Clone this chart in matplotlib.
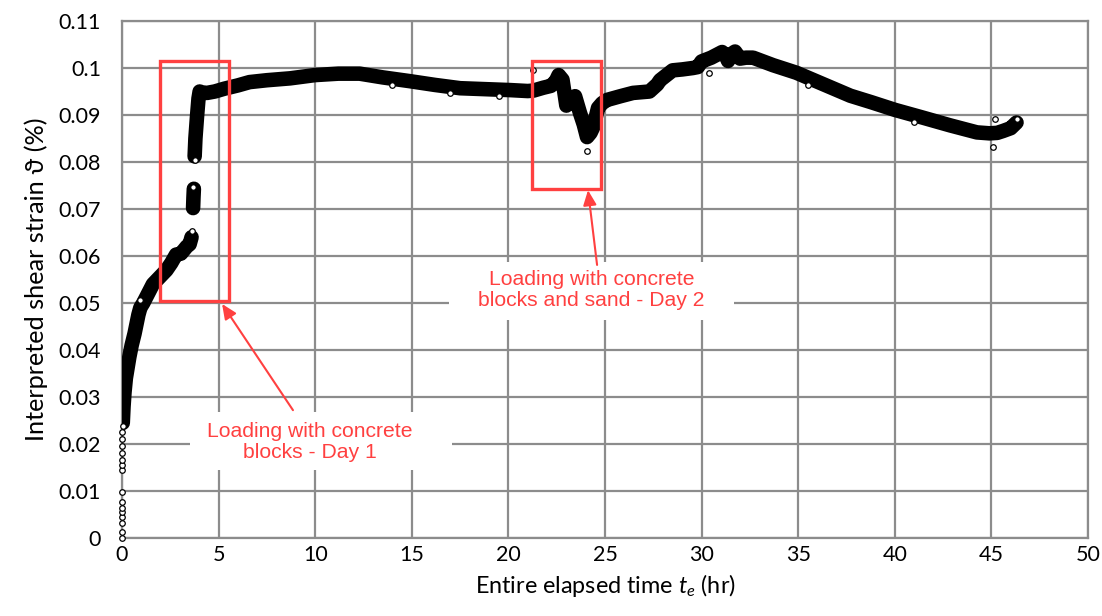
import matplotlib
matplotlib.use("Agg")
import matplotlib.pyplot as plt
from matplotlib.patches import Rectangle

plt.rcParams["mathtext.fontset"] = "custom"
plt.rcParams["mathtext.it"] = "Lato:italic"
plt.rcParams["mathtext.rm"] = "Lato"

# ---- measured shear strain record (time in hr, strain in %) ----
# initial creep up to the first loading
t_initial = [0.04, 0.08, 0.13, 0.2, 0.28, 0.38, 0.5, 0.65, 0.76, 0.85, 0.95, 1.1, 1.35,
             1.6, 1.95, 2.3, 2.55, 2.8, 3.05, 3.35, 3.5, 3.6]
s_initial = [0.0245, 0.028, 0.031, 0.034, 0.036, 0.0385, 0.041, 0.0435, 0.0457, 0.0475,
             0.049, 0.050, 0.052, 0.054, 0.0555, 0.057, 0.0585, 0.0603, 0.0605, 0.062,
             0.0625, 0.0640]
# short intermediate step during block placement
t_step = [3.68, 3.70, 3.72]
s_step = [0.0702, 0.0725, 0.0743]
# remainder of the record
t_main = [3.76, 3.80, 3.88, 3.96, 4.02, 4.15, 4.4, 4.8, 5.3, 6.0, 6.6, 7.5, 8.7, 10.0,
          11.2, 12.3, 13.5, 14.9, 16.2, 17.5, 18.8, 20.1, 21.0, 21.3, 21.8, 22.2, 22.45,
          22.6, 22.8, 23.0, 23.2, 23.45, 23.7, 23.9, 24.07, 24.25, 24.4, 24.64, 24.85,
          25.1, 25.8, 26.45, 27.3, 27.7, 27.85, 28.5, 29.0, 29.55, 29.8, 30.0, 30.5, 31.06,
          31.25, 31.37, 31.55, 31.73, 31.99, 32.3, 32.66, 33.7, 34.9, 36.1, 37.7, 38.8,
          40.0, 41.4, 42.86, 43.6, 44.25, 44.9, 45.3, 45.6, 46.0, 46.2, 46.3]
s_main = [0.0812, 0.0850, 0.0895, 0.0935, 0.0950, 0.0948, 0.0947, 0.0950, 0.0956,
          0.0963, 0.0970, 0.0974, 0.0978, 0.0985, 0.0988, 0.0988, 0.0980, 0.0972, 0.0964,
          0.0957, 0.0955, 0.0953, 0.0951, 0.0952, 0.0958, 0.0962, 0.0972, 0.0985, 0.0975,
          0.0920, 0.0935, 0.0940, 0.0905, 0.0880, 0.0853, 0.0862, 0.0875, 0.0915, 0.0925,
          0.0932, 0.0940, 0.0947, 0.0950, 0.0965, 0.0974, 0.0995, 0.0997, 0.1000, 0.1002,
          0.1014, 0.1022, 0.1034, 0.1027, 0.1015, 0.1030, 0.1035, 0.1020, 0.1022, 0.1022,
          0.1006, 0.0990, 0.0969, 0.0941, 0.0927, 0.0911, 0.0895, 0.0878, 0.0870, 0.0863,
          0.0861, 0.0862, 0.0866, 0.0872, 0.0880, 0.0884]
# isolated readings
t_points = [0.0, 0.0, 0.0, 0.0, 0.0, 0.0, 0.0, 0.0, 0.0, 0.0, 0.01, 0.01, 0.02, 0.02,
            0.02, 0.03, 0.93, 3.6, 3.68, 3.78, 21.27, 24.08, 30.4, 45.1, 45.2, 46.3,
            14.0, 17.0, 19.5, 35.5, 41.0]
s_points = [0.0, 0.0013, 0.0032, 0.0045, 0.0056, 0.0064, 0.0077, 0.0098, 0.0145, 0.0155,
            0.0165, 0.0180, 0.0195, 0.0210, 0.0225, 0.0238, 0.0506, 0.0653, 0.0747,
            0.0804, 0.0996, 0.0823, 0.0989, 0.0832, 0.0891, 0.0891,
            0.0963, 0.0946, 0.0941, 0.0963, 0.0885]

x_ticks = list(range(0, 51, 5))
y_ticks = [0, 0.01, 0.02, 0.03, 0.04, 0.05, 0.06, 0.07, 0.08, 0.09, 0.1, 0.11]
y_labels = ["0", "0.01", "0.02", "0.03", "0.04", "0.05", "0.06", "0.07", "0.08",
            "0.09", "0.1", "0.11"]

RED = "#FF4040"
GRID = "#8c8c8c"
FONT = ["Lato", "DejaVu Sans"]

fig = plt.figure(figsize=(11.02, 6.16), dpi=100)
ax = fig.add_axes([0.1107, 0.1266, 0.8766, 0.8393])

band = dict(color="black", lw=10.5, solid_capstyle="round", solid_joinstyle="round",
            zorder=3)
for tt, ss in ((t_initial, s_initial), (t_step, s_step), (t_main, s_main)):
    ax.plot(tt, ss, **band)
ax.plot(t_points, s_points, ls="none", marker="o", ms=4, mfc="white", mec="black",
        mew=0.9, zorder=4, clip_on=False)

ax.set_xlim(0, 50)
ax.set_ylim(0, 0.11)
ax.set_xticks(x_ticks)
ax.set_yticks(y_ticks)
ax.set_yticklabels(y_labels)
ax.grid(True, color=GRID, lw=1.6, zorder=0)
ax.set_axisbelow(True)
for sp in ax.spines.values():
    sp.set_color(GRID)
    sp.set_linewidth(1.6)
ax.tick_params(axis="y", length=0, pad=15, labelsize=15.5, labelcolor="black")
ax.tick_params(axis="x", length=0, pad=5, labelsize=15.5, labelcolor="black")
for lab in ax.get_xticklabels() + ax.get_yticklabels():
    lab.set_fontfamily(FONT)

ax.set_xlabel(r"Entire elapsed time $t_e$ (hr)", fontsize=16.8, family=FONT, labelpad=5)
ax.set_ylabel("Interpreted shear strain ϑ (%)", fontsize=18.2, family=FONT, labelpad=8)

# loading windows
ax.add_patch(Rectangle((1.97, 0.0504), 3.57, 0.0511, fill=False, ec=RED, lw=2.4, zorder=5))
ax.add_patch(Rectangle((21.2, 0.0743), 3.6, 0.0272, fill=False, ec=RED, lw=2.4, zorder=5))

# label backgrounds
ax.add_patch(Rectangle((3.5, 0.0145), 13.6, 0.0123, fc="white", ec="none", zorder=2))
ax.add_patch(Rectangle((16.9, 0.0464), 14.8, 0.0124, fc="white", ec="none", zorder=2))

txt = dict(color=RED, fontsize=15.2, family="Liberation Sans", ha="center", va="center",
           linespacing=1.15, zorder=6)
ax.text(9.7, 0.0205, "Loading with concrete\nblocks - Day 1", **txt)
ax.text(24.3, 0.0527, "Loading with concrete\nblocks and sand - Day 2", **txt)

arrow = dict(arrowstyle="-|>,head_length=0.9,head_width=0.4", color=RED, lw=1.5,
             shrinkA=0, shrinkB=0)
ax.annotate("", xy=(5.18, 0.0498), xytext=(8.85, 0.0272), arrowprops=arrow, zorder=6)
ax.annotate("", xy=(24.12, 0.0740), xytext=(24.59, 0.0581), arrowprops=arrow, zorder=6)

fig.savefig("out.png", dpi=100)
